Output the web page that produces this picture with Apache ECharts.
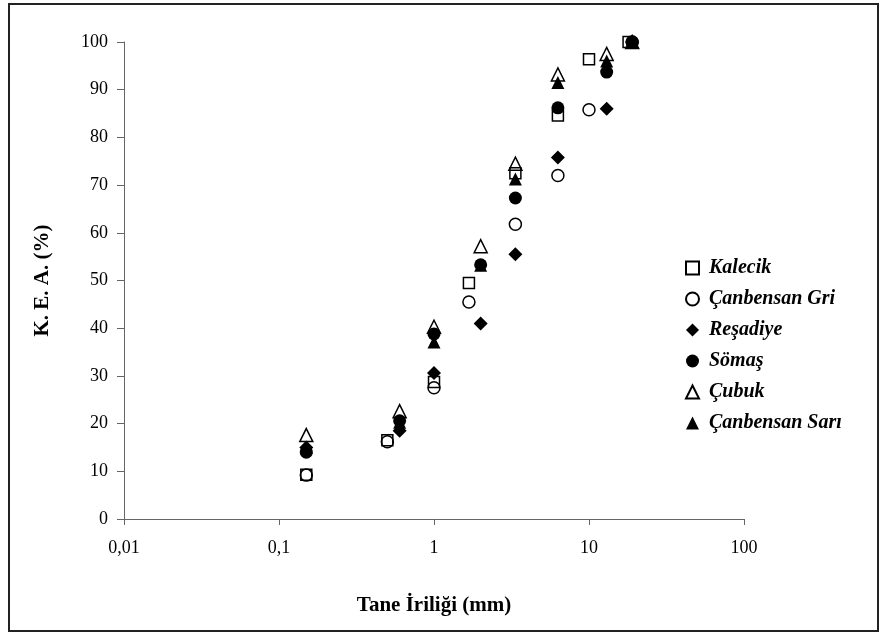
<!DOCTYPE html>
<html>
<head>
<meta charset="utf-8">
<script src="https://cdn.jsdelivr.net/npm/echarts@6/dist/echarts.min.js"></script>
<style>
  html, body { margin: 0; padding: 0; background: #fff; }
  #chart { width: 880px; height: 633px; }
</style>
</head>
<body>
<div id="chart"></div>
<script>
// Particle size (mm) and cumulative percent passing for each sample
const kalecikSize = [0.15, 0.5, 1, 1.68, 3.35, 6.3, 10, 18];
const kalecikPass = [9.3, 16.5, 28.7, 49.5, 72.5, 84.6, 96.4, 100];

const griSize = [0.15, 0.5, 1, 1.68, 3.35, 6.3, 10, 19];
const griPass = [9.2, 16.2, 27.5, 45.5, 61.8, 72.0, 85.8, 100];

const resadiyeSize = [0.15, 0.6, 1, 2, 3.35, 6.3, 13, 19];
const resadiyePass = [15.0, 18.5, 30.6, 41.0, 55.5, 75.8, 86.0, 100];

const somasSize = [0.15, 0.6, 1, 2, 3.35, 6.3, 13, 19];
const somasPass = [14.0, 20.6, 38.8, 53.3, 67.3, 86.2, 93.7, 100];

const cubukSize = [0.15, 0.6, 1, 2, 3.35, 6.3, 13, 19];
const cubukPass = [17.6, 22.6, 40.3, 57.2, 74.5, 93.2, 97.5, 100];

const sariSize = [0.15, 0.6, 1, 2, 3.35, 6.3, 13, 19];
const sariPass = [15.0, 20.3, 37.1, 53.2, 71.3, 91.5, 96.0, 100];

const seriesNames = ['Kalecik', 'Çanbensan Gri', 'Reşadiye', 'Sömaş', 'Çubuk', 'Çanbensan Sarı'];
const yTicks = [0, 10, 20, 30, 40, 50, 60, 70, 80, 90, 100];
const xTicks = [0.01, 0.1, 1, 10, 100];

const FONT = '"Liberation Serif", "Times New Roman", serif';

function pairs(sizes, values) {
  return sizes.map((s, i) => [s, values[i]]);
}

const openStyle = { color: 'rgba(255,255,255,0)', borderColor: '#000', borderWidth: 1.5, opacity: 1 };
const solidStyle = { color: '#000', borderColor: '#000', borderWidth: 0, opacity: 1 };

const markerDefs = [
  { data: pairs(kalecikSize, kalecikPass), symbol: 'rect', size: 11, style: openStyle },
  { data: pairs(griSize, griPass), symbol: 'circle', size: 12, style: openStyle },
  { data: pairs(resadiyeSize, resadiyePass), symbol: 'diamond', size: 14, style: solidStyle },
  { data: pairs(somasSize, somasPass), symbol: 'circle', size: 13, style: solidStyle },
  { data: pairs(cubukSize, cubukPass), symbol: 'triangle', size: 13, style: openStyle },
  { data: pairs(sariSize, sariPass), symbol: 'triangle', size: 13, style: solidStyle }
];

const chart = echarts.init(document.getElementById('chart'), null, { renderer: 'canvas' });

chart.setOption({
  animation: false,
  backgroundColor: '#fff',
  textStyle: { fontFamily: FONT, color: '#000' },
  grid: { left: 124, right: 136, top: 42, bottom: 114, containLabel: false },
  xAxis: {
    type: 'log',
    logBase: 10,
    min: xTicks[0],
    max: xTicks[xTicks.length - 1],
    name: 'Tane İriliği (mm)',
    nameLocation: 'middle',
    nameGap: 76,
    nameTextStyle: { fontFamily: FONT, fontSize: 21, fontWeight: 'bold', color: '#000' },
    axisLine: { lineStyle: { color: '#666', width: 1 } },
    axisTick: { show: true, inside: false, length: 6, lineStyle: { color: '#666' } },
    axisLabel: {
      fontFamily: FONT, fontSize: 18, color: '#000', margin: 20,
      formatter: v => String(v).replace('.', ',')
    },
    splitLine: { show: false },
    minorTick: { show: false }
  },
  yAxis: {
    type: 'value',
    min: yTicks[0],
    max: yTicks[yTicks.length - 1],
    interval: 10,
    name: 'K. E. A. (%)',
    nameLocation: 'middle',
    nameGap: 71,
    nameTextStyle: { fontFamily: FONT, fontSize: 21, fontWeight: 'bold', color: '#000' },
    axisLine: { show: true, lineStyle: { color: '#666', width: 1 } },
    axisTick: { show: true, inside: false, length: 7, lineStyle: { color: '#666' } },
    axisLabel: { fontFamily: FONT, fontSize: 18, color: '#000', margin: 16 },
    splitLine: { show: false }
  },
  legend: {
    orient: 'vertical',
    left: 680,
    top: 253,
    itemWidth: 13,
    itemHeight: 13,
    itemGap: 11,
    data: seriesNames,
    textStyle: {
      fontFamily: FONT, fontSize: 20, fontStyle: 'italic', fontWeight: 'bold',
      color: '#000', lineHeight: 19, padding: [0, 0, 0, 5]
    }
  },
  graphic: [{
    type: 'rect',
    shape: { x: 9, y: 4, width: 869, height: 627 },
    style: { fill: 'none', stroke: '#222', lineWidth: 2 },
    silent: true,
    z: 100
  }],
  series: markerDefs.map((d, i) => ({
    name: seriesNames[i],
    type: 'scatter',
    data: d.data,
    symbol: d.symbol,
    symbolSize: d.size,
    itemStyle: d.style,
    emphasis: { disabled: true }
  }))
});
</script>
</body>
</html>
